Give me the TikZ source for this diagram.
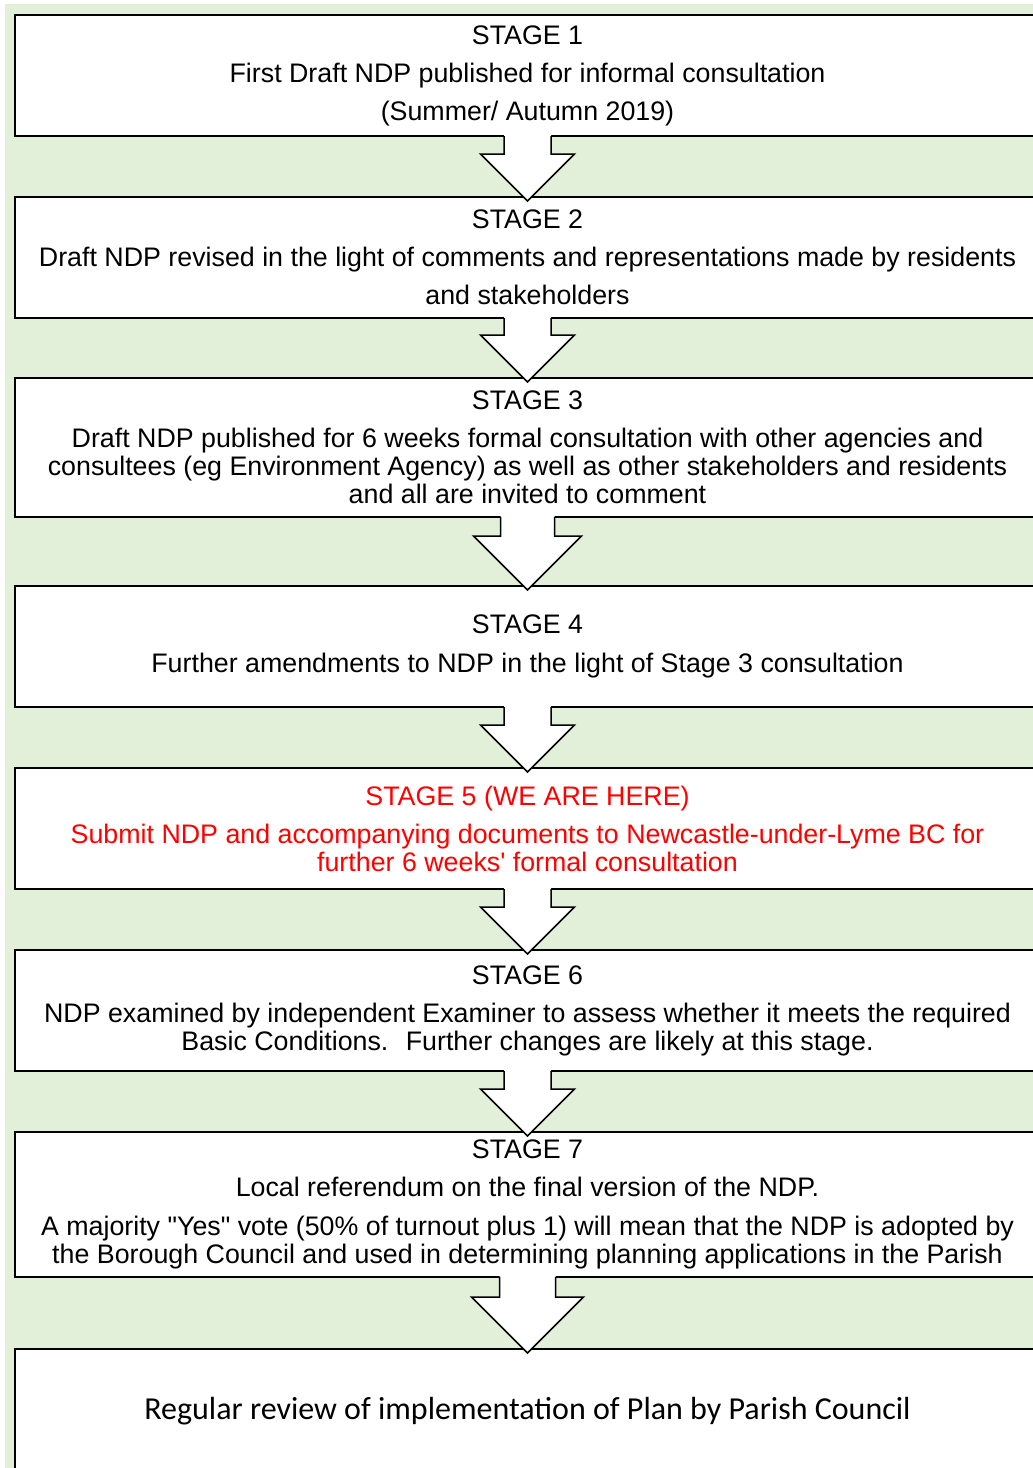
\documentclass[tikz,border=0pt]{standalone}
\usepackage{fontspec}
\setmainfont{Liberation Sans}[Ligatures=TeXOff]
\newfontfamily\reviewfont{Carlito}
\usetikzlibrary{calc}

\definecolor{stagegreen}{HTML}{E2EFD9}
\definecolor{herered}{HTML}{FF0000}

\tikzset{
  stagebox/.style={draw, line width=2pt, fill=white, anchor=north west,
    minimum width=1025pt, inner sep=0pt, outer sep=0pt, align=center,
    font=\fontsize{26.8}{28}\selectfont},
  blockline/.style={line width=1.5pt, line join=miter},
}

% block arrow from box #1 down to box #2, head half width #3
\newcommand{\stagearrow}[3]{%
  \coordinate (tip) at ($(#2.north)+(0,4)$);
  \fill[white] ($(#1.south)+(-#3/2,-3)$) -- ($(tip)+(-#3/2,-#3)$)
    -- ($(tip)+(-#3,-#3)$) -- (tip) -- ($(tip)+(#3,-#3)$)
    -- ($(tip)+(#3/2,-#3)$) -- ($(#1.south)+(#3/2,-3)$) -- cycle;
  \draw[blockline] ($(#1.south)+(-#3/2,0)$) -- ($(tip)+(-#3/2,-#3)$)
    -- ($(tip)+(-#3,-#3)$) -- (tip) -- ($(tip)+(#3,-#3)$)
    -- ($(tip)+(#3/2,-#3)$) -- ($(#1.south)+(#3/2,0)$);
}

\begin{document}
\begin{tikzpicture}[x=1pt,y=-1pt]

\useasboundingbox (0,0) rectangle (1033,1468);
\clip (0,0) rectangle (1033,1468);

% Green background
\fill[stagegreen] (5,4) rectangle (1033,1468);

% Stage boxes
\node[stagebox, minimum height=121pt] (s1) at (15,15)
  {STAGE 1\\[10pt]First Draft NDP published for informal consultation\\[10pt](Summer/ Autumn 2019)};
\node[stagebox, minimum height=121pt] (s2) at (15,197)
  {STAGE 2\\[10pt]Draft NDP revised in the light of comments and representations made by residents\\[10pt]and stakeholders};
\node[stagebox, minimum height=139pt] (s3) at (15,378)
  {STAGE 3\\[10pt]Draft NDP published for 6 weeks formal consultation with other agencies and\\consultees (eg Environment Agency) as well as other stakeholders and residents\\and all are invited to comment};
\node[stagebox, minimum height=121pt] (s4) at (15,586)
  {STAGE 4\\[11pt]Further amendments to NDP in the light of Stage 3 consultation};
\node[stagebox, minimum height=121pt, text=herered] (s5) at (15,768)
  {STAGE 5 (WE ARE HERE)\\[10pt]Submit NDP and accompanying documents to Newcastle-under-Lyme BC for\\further 6 weeks' formal consultation};
\node[stagebox, minimum height=121pt] (s6) at (15,950)
  {STAGE 6\\[10pt]NDP examined by independent Examiner to assess whether it meets the required\\Basic Conditions.~ Further changes are likely at this stage.};
\node[stagebox, minimum height=145pt] (s7) at (15,1132)
  {STAGE 7\\[10pt]Local referendum on the final version of the NDP.\\[11pt]A majority "Yes" vote (50\% of turnout plus 1) will mean that the NDP is adopted by\\the Borough Council and used in determining planning applications in the Parish};
\node[stagebox, minimum height=124pt, font=\reviewfont\fontsize{32}{34}\selectfont] (s8) at (15,1349)
  {Regular review of implementation of Plan by Parish Council};

% Arrows between stages
\stagearrow{s1}{s2}{47}
\stagearrow{s2}{s3}{47}
\stagearrow{s3}{s4}{54}
\stagearrow{s4}{s5}{47}
\stagearrow{s5}{s6}{47}
\stagearrow{s6}{s7}{47}
\stagearrow{s7}{s8}{56}

\end{tikzpicture}
\end{document}
